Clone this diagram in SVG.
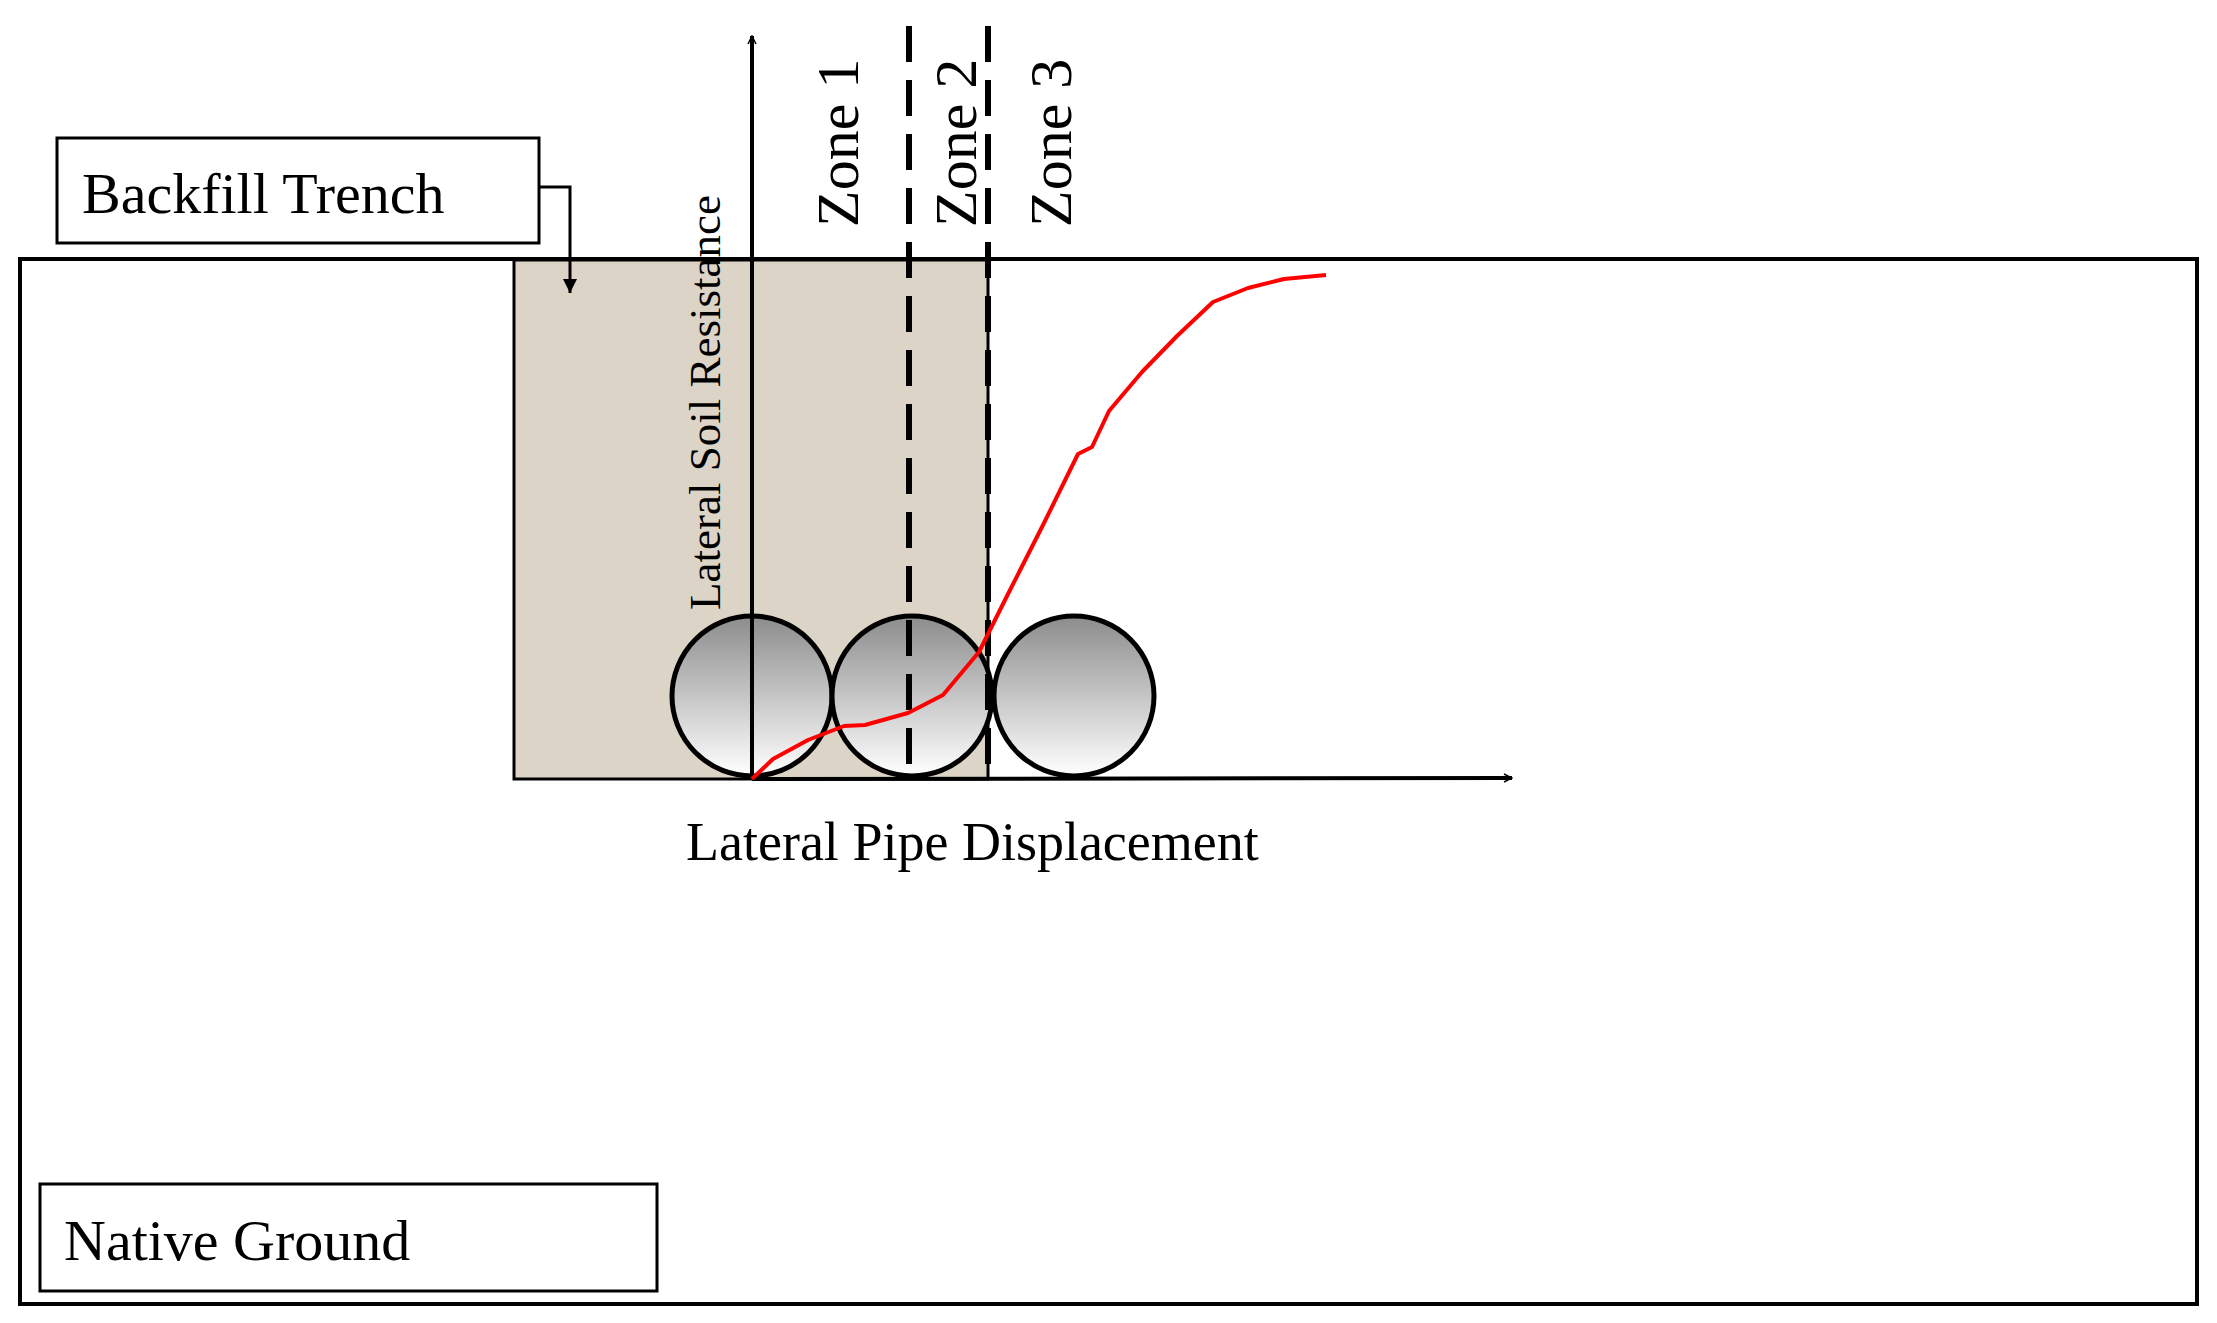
<svg xmlns="http://www.w3.org/2000/svg" width="2217" height="1323" viewBox="0 0 2217 1323">
<defs>
<linearGradient id="pipe" x1="0" y1="0" x2="0" y2="1"><stop offset="0" stop-color="#8c8c8c"/><stop offset="1" stop-color="#ffffff"/></linearGradient>
<marker id="ah" viewBox="0 0 20 20" refX="18" refY="10" markerWidth="10" markerHeight="10" markerUnits="userSpaceOnUse" orient="auto"><path d="M2,2 L18,10 L2,18" fill="none" stroke="#000" stroke-width="3"/></marker>
<marker id="tri" viewBox="0 0 10 10" refX="10" refY="5" markerWidth="14" markerHeight="18" markerUnits="userSpaceOnUse" orient="auto"><path d="M0,0 L10,5 L0,10 Z" fill="#000"/></marker>
</defs>
<style>
text{font-family:"Liberation Serif","Times New Roman",serif;fill:#000}
.box{fill:#fff;stroke:#000;stroke-width:3}
.ax{stroke:#000;stroke-width:4;fill:none}
.dash{stroke:#000;stroke-width:6;stroke-dasharray:36,18;fill:none}
.pipe{fill:url(#pipe);stroke:#000;stroke-width:5}
</style>
<rect width="2217" height="1323" fill="#fff"/>
<g id="ground"><rect x="20" y="259" width="2177" height="1045" fill="#fff" stroke="#000" stroke-width="4"/></g>
<g id="trench"><rect x="514" y="260" width="474" height="519" fill="#dcd4c7" stroke="#000" stroke-width="3"/></g>
<g id="pipes">
<circle class="pipe" cx="752" cy="696" r="80"/>
<circle class="pipe" cx="912" cy="696" r="80"/>
<circle class="pipe" cx="1074" cy="696" r="80"/>
</g>
<g id="connectors">
<line class="ax" x1="752" y1="779" x2="752" y2="36" marker-end="url(#ah)"/>
<line class="ax" x1="752" y1="779" x2="1512" y2="778" marker-end="url(#ah)"/>
<line class="dash" x1="909" y1="26" x2="909" y2="779"/>
<line class="dash" x1="988" y1="26" x2="988" y2="779"/>
<path d="M539,187 H570 V293" fill="none" stroke="#000" stroke-width="3" marker-end="url(#tri)"/>
<path d="M752,779 L773,759 L808,740 L844,726 L865,725 L908,713 L943,695 L979,652 L1007,596 L1043,525 L1078,454 L1092,447 L1109,411 L1142,372 L1177,336 L1213,302 L1248,288 L1284,279 L1326,275" fill="none" stroke="#ff0000" stroke-width="4" stroke-linejoin="round"/>
</g>
<g id="backfill"><rect class="box" x="57" y="138" width="482" height="105"/><text x="82" y="213" font-size="58">Backfill Trench</text></g>
<g id="native"><rect class="box" x="40" y="1184" width="617" height="107"/><text x="64" y="1260" font-size="58">Native Ground</text></g>
<g id="labels">
<text transform="translate(858,227) rotate(-90)" font-size="60">Zone 1</text>
<text transform="translate(976,227) rotate(-90)" font-size="60">Zone 2</text>
<text transform="translate(1071,227) rotate(-90)" font-size="60">Zone 3</text>
<text transform="translate(720,610) rotate(-90)" font-size="45">Lateral Soil Resistance</text>
<text x="686" y="860" font-size="54">Lateral Pipe Displacement</text>
</g>
</svg>
